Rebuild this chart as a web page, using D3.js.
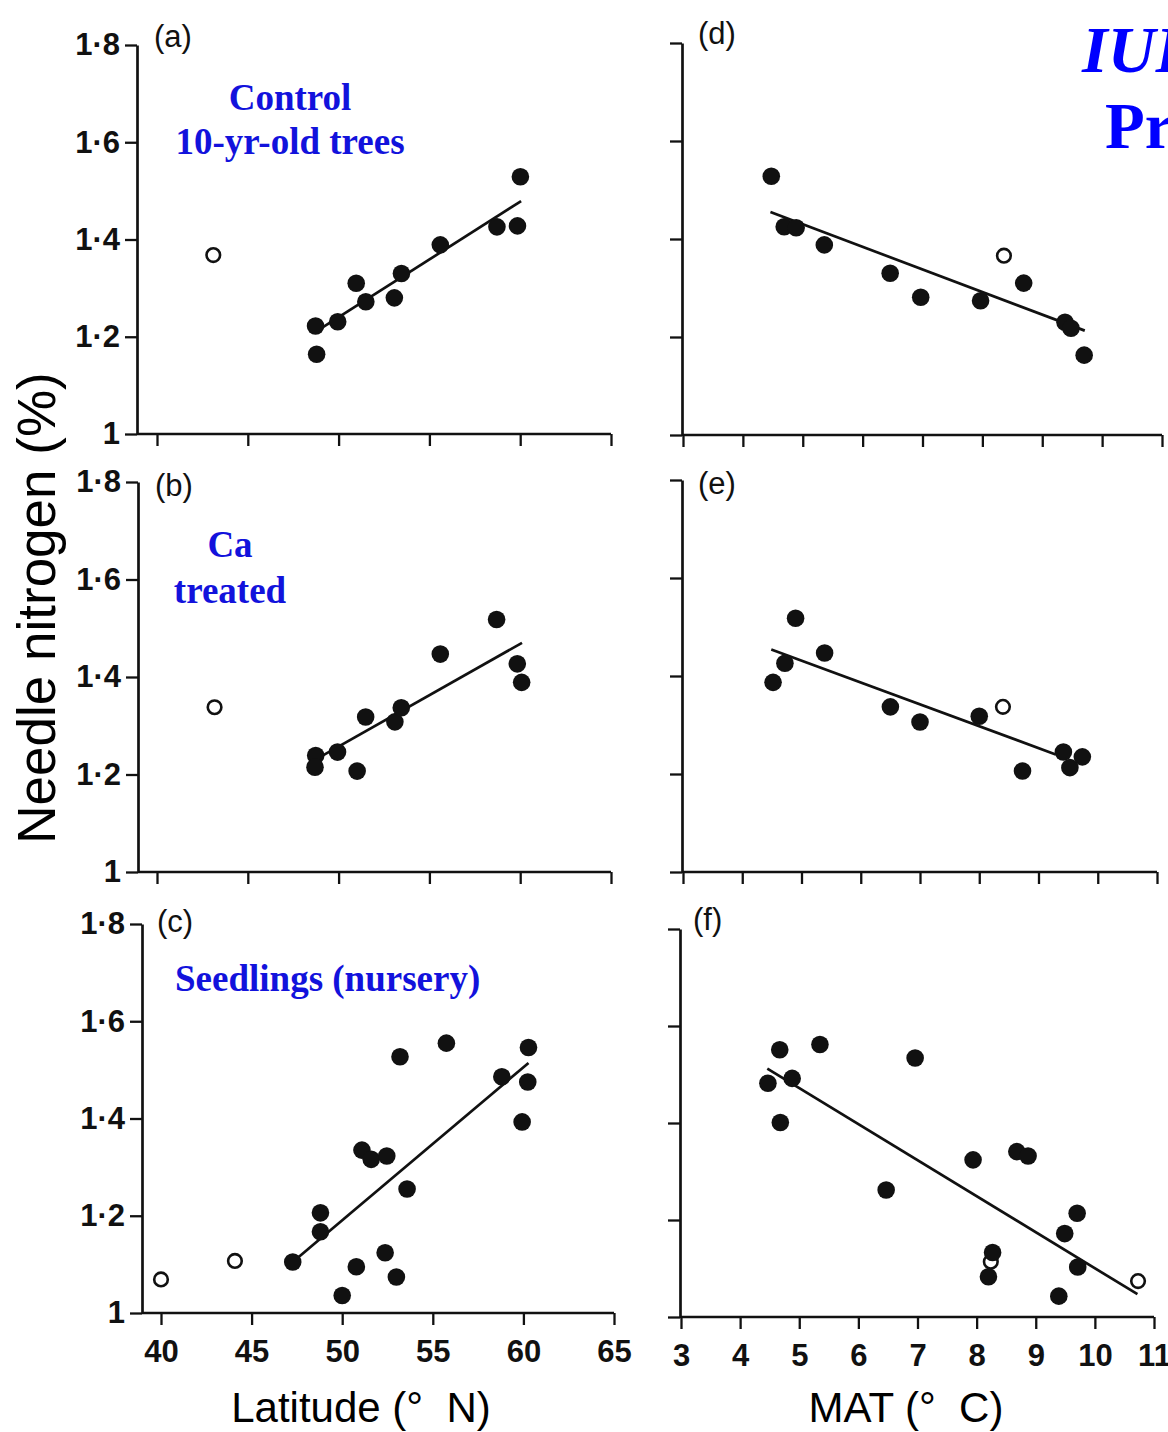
<!DOCTYPE html>
<html>
<head>
<meta charset="utf-8">
<script src="https://cdn.jsdelivr.net/npm/d3@7"></script>
<style>
  html, body { margin: 0; padding: 0; background: #ffffff; }
  svg { display: block; }
</style>
</head>
<body>
<script>
// ---------------- DATA ----------------
const latTicks = [40, 45, 50, 55, 60, 65];
const matTicks = [3, 4, 5, 6, 7, 8, 9, 10, 11];
const nTicks = [1, 1.2, 1.4, 1.6, 1.8];

// (a) Control, 10-yr-old trees vs latitude
const aLat = [48.73, 48.79, 49.95, 50.97, 51.50, 53.07, 53.46, 55.60, 58.72, 59.85, 60.01];
const aN   = [1.222, 1.164, 1.231, 1.310, 1.272, 1.280, 1.330, 1.389, 1.426, 1.428, 1.529];
const aOpenLat = [43.1];
const aOpenN   = [1.368];
const aFitLat = [48.9, 60.05];
const aFitN   = [1.214, 1.479];

// (b) Ca treated vs latitude
const bLat = [48.74, 48.70, 49.94, 51.02, 51.49, 53.10, 53.45, 55.60, 58.70, 59.84, 60.08];
const bN   = [1.239, 1.215, 1.246, 1.207, 1.318, 1.308, 1.337, 1.447, 1.518, 1.427, 1.389];
const bOpenLat = [43.17];
const bOpenN   = [1.338];
const bFitLat = [48.7, 60.1];
const bFitN   = [1.230, 1.470];

// (c) Seedlings (nursery) vs latitude
const cLat = [47.27, 48.80, 48.80, 50.00, 50.78, 51.09, 51.60, 52.37, 52.46, 52.99, 53.19, 53.58, 55.75, 58.81, 59.93, 60.24, 60.28];
const cN   = [1.105, 1.206, 1.167, 1.036, 1.095, 1.335, 1.316, 1.124, 1.323, 1.074, 1.527, 1.255, 1.555, 1.486, 1.393, 1.475, 1.546];
const cOpenLat = [40.0, 44.08];
const cOpenN   = [1.069, 1.107];
const cFitLat = [47.5, 60.28];
const cFitN   = [1.112, 1.514];

// (d) Control vs MAT
const dMat = [4.475, 4.69, 4.89, 5.36, 6.46, 6.97, 7.97, 8.69, 9.38, 9.48, 9.70];
const dN   = [1.528, 1.425, 1.423, 1.388, 1.330, 1.281, 1.274, 1.310, 1.230, 1.218, 1.163];
const dOpenMat = [8.36];
const dOpenN   = [1.366];
const dFitMat = [4.46, 9.71];
const dFitN   = [1.455, 1.213];

// (e) Ca treated vs MAT
const eMat = [4.52, 4.72, 4.90, 5.39, 6.50, 7.00, 8.00, 8.73, 9.42, 9.53, 9.74];
const eN   = [1.387, 1.426, 1.518, 1.447, 1.337, 1.306, 1.318, 1.206, 1.245, 1.213, 1.235];
const eOpenMat = [8.40];
const eOpenN   = [1.337];
const eFitMat = [4.49, 9.29];
const eFitN   = [1.454, 1.240];

// (f) Seedlings vs MAT
const fMat = [4.47, 4.67, 4.88, 4.68, 5.35, 6.47, 6.96, 7.94, 8.68, 8.87, 8.27, 8.20, 9.39, 9.49, 9.70, 9.71];
const fN   = [1.482, 1.551, 1.492, 1.401, 1.562, 1.262, 1.534, 1.324, 1.341, 1.332, 1.133, 1.083, 1.043, 1.172, 1.214, 1.103];
const fOpenMat = [8.24, 10.73];
const fOpenN   = [1.114, 1.074];
const fFitMat = [4.46, 10.72];
const fFitN   = [1.512, 1.047];

// ---------------- LAYOUT ----------------
const W = 1168, H = 1432;
const SANS = "'Liberation Sans', Arial, Helvetica, sans-serif";
const SERIF = "'Liberation Serif', 'Times New Roman', Times, serif";
const BLUE = "#1212dc";

const svg = d3.select("body").append("svg")
  .attr("width", W).attr("height", H)
  .attr("viewBox", `0 0 ${W} ${H}`);

const panels = [
  {id: "(a)", yAxisX: 137, xAxisY: 434, yTop: 45, xLeft: 157, xRight: 611, ticks: latTicks, showX: false, showY: true,
   fx: aLat, fy: aN, ox: aOpenLat, oy: aOpenN, lx: aFitLat, ly: aFitN, labX: 154, labY: 47},
  {id: "(b)", yAxisX: 138, xAxisY: 872, yTop: 482, xLeft: 157, xRight: 611, ticks: latTicks, showX: false, showY: true,
   fx: bLat, fy: bN, ox: bOpenLat, oy: bOpenN, lx: bFitLat, ly: bFitN, labX: 155, labY: 496},
  {id: "(c)", yAxisX: 142, xAxisY: 1313, yTop: 924, xLeft: 161, xRight: 614, ticks: latTicks, showX: true, showY: true,
   fx: cLat, fy: cN, ox: cOpenLat, oy: cOpenN, lx: cFitLat, ly: cFitN, labX: 157, labY: 932},
  {id: "(d)", yAxisX: 682, xAxisY: 435, yTop: 43, xLeft: 683, xRight: 1162, ticks: matTicks, showX: false, showY: false,
   fx: dMat, fy: dN, ox: dOpenMat, oy: dOpenN, lx: dFitMat, ly: dFitN, labX: 698, labY: 44},
  {id: "(e)", yAxisX: 682, xAxisY: 872, yTop: 480, xLeft: 683, xRight: 1157, ticks: matTicks, showX: false, showY: false,
   fx: eMat, fy: eN, ox: eOpenMat, oy: eOpenN, lx: eFitMat, ly: eFitN, labX: 698, labY: 494},
  {id: "(f)", yAxisX: 680, xAxisY: 1317, yTop: 929, xLeft: 681, xRight: 1154, ticks: matTicks, showX: true, showY: false,
   fx: fMat, fy: fN, ox: fOpenMat, oy: fOpenN, lx: fFitMat, ly: fFitN, labX: 693, labY: 930}
];

const nFmt = d => d === 1 ? "1" : d.toFixed(1).replace(".", "\u00B7");

panels.forEach(p => {
  const g = svg.append("g");
  const x = d3.scaleLinear().domain([p.ticks[0], p.ticks[p.ticks.length - 1]]).range([p.xLeft, p.xRight]);
  const y = d3.scaleLinear().domain([1, 1.8]).range([p.xAxisY, p.yTop]);

  // x axis
  const gx = g.append("g").attr("transform", `translate(0,${p.xAxisY})`)
    .call(d3.axisBottom(x).tickValues(p.ticks).tickSize(12).tickSizeOuter(0).tickPadding(15)
      .tickFormat(p.showX ? d3.format("d") : () => ""));
  gx.select(".domain").attr("d", `M${p.yAxisX},0H${p.xRight}`);

  // y axis
  const gy = g.append("g").attr("transform", `translate(${p.yAxisX},0)`)
    .call(d3.axisLeft(y).tickValues(nTicks).tickSize(12).tickSizeOuter(0).tickPadding(5)
      .tickFormat(p.showY ? nFmt : () => ""));

  [gx, gy].forEach(a => {
    a.select(".domain").attr("stroke", "#111").attr("stroke-width", 2.7).attr("fill", "none");
    a.selectAll(".tick line").attr("stroke", "#111").attr("stroke-width", 2.3);
    a.selectAll(".tick text").attr("fill", "#111").style("font-family", SANS)
      .style("font-size", "31px").style("font-weight", "bold");
  });

  // regression line
  g.append("line")
    .attr("x1", x(p.lx[0])).attr("y1", y(p.ly[0]))
    .attr("x2", x(p.lx[1])).attr("y2", y(p.ly[1]))
    .attr("stroke", "#111").attr("stroke-width", 2.7);

  // open circles (excluded provenances)
  g.selectAll("circle.open").data(d3.range(p.ox.length)).enter().append("circle")
    .attr("class", "open")
    .attr("cx", i => x(p.ox[i])).attr("cy", i => y(p.oy[i]))
    .attr("r", 6.8).attr("fill", "#fff").attr("stroke", "#111").attr("stroke-width", 2.6);

  // filled circles
  g.selectAll("circle.fill").data(d3.range(p.fx.length)).enter().append("circle")
    .attr("class", "fill")
    .attr("cx", i => x(p.fx[i])).attr("cy", i => y(p.fy[i]))
    .attr("r", 8.8).attr("fill", "#111");

  // panel letter
  g.append("text").attr("x", p.labX).attr("y", p.labY).text(p.id)
    .style("font-family", SANS).style("font-size", "31px").attr("fill", "#111");
});

// ---------------- annotations ----------------
function blueText(t, x, y, anchor, size) {
  svg.append("text").attr("x", x).attr("y", y).attr("text-anchor", anchor).text(t)
    .style("font-family", SERIF).style("font-weight", "bold").style("font-size", size + "px")
    .attr("fill", BLUE);
}
blueText("Control", 290, 110, "middle", 37);
blueText("10-yr-old trees", 290, 154, "middle", 37);
blueText("Ca", 230, 557, "middle", 37);
blueText("treated", 230, 603, "middle", 37);
blueText("Seedlings (nursery)", 175, 991, "start", 37);

svg.append("text").attr("x", 1082).attr("y", 72).text("IUFRO")
  .style("font-family", SERIF).style("font-weight", "bold").style("font-style", "italic")
  .style("font-size", "66px").attr("fill", "#0000ff");
svg.append("text").attr("x", 1105).attr("y", 148).text("Provenance")
  .style("font-family", SERIF).style("font-weight", "bold")
  .style("font-size", "65px").attr("fill", "#0000ff");

// axis titles
svg.append("text")
  .attr("transform", "translate(55,608) rotate(-90)")
  .attr("text-anchor", "middle")
  .text("Needle nitrogen (%)")
  .style("font-family", SANS).style("font-size", "53px").attr("fill", "#000");

svg.append("text").attr("x", 361).attr("y", 1422).attr("text-anchor", "middle")
  .attr("xml:space", "preserve").style("white-space", "pre")
  .text("Latitude (\u00B0  N)")
  .style("font-family", SANS).style("font-size", "42px").attr("fill", "#000");

svg.append("text").attr("x", 906).attr("y", 1422).attr("text-anchor", "middle")
  .attr("xml:space", "preserve").style("white-space", "pre")
  .text("MAT (\u00B0  C)")
  .style("font-family", SANS).style("font-size", "42px").attr("fill", "#000");
</script>
</body>
</html>
